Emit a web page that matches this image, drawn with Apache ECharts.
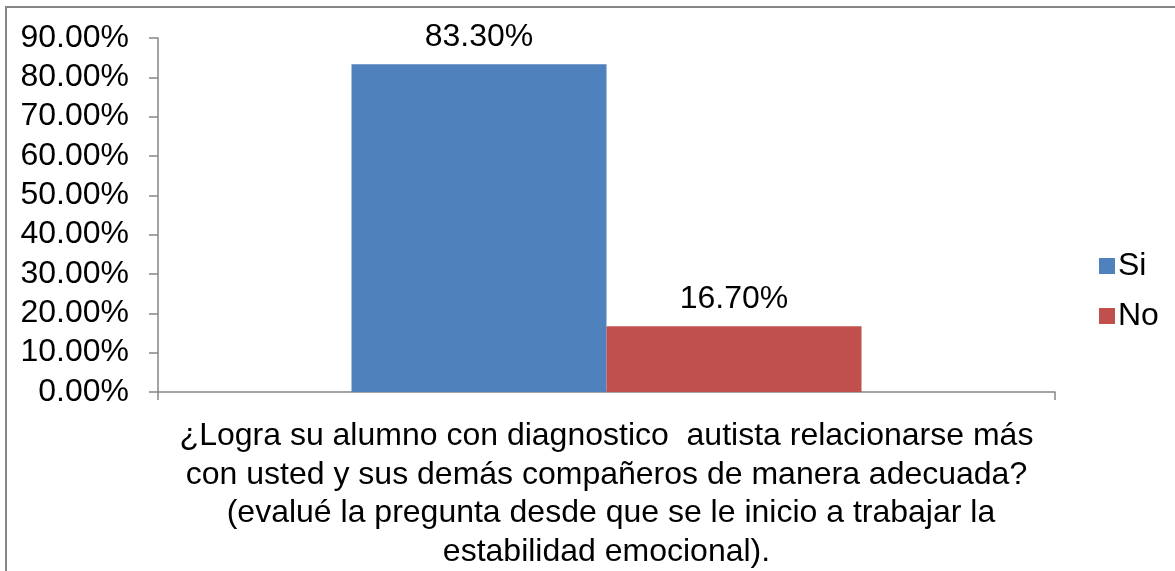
<!DOCTYPE html>
<html><head><meta charset="utf-8">
<script src="https://cdn.jsdelivr.net/npm/echarts@6/dist/echarts.min.js"></script>
<style>html,body{margin:0;padding:0;background:#fff}#c{width:1175px;height:571px}</style>
</head><body><div id="c"></div>
<script>
const categories = ["¿Logra su alumno con diagnostico  autista relacionarse más\ncon usted y sus demás compañeros de manera adecuada?\n (evalué la pregunta desde que se le inicio a trabajar la\nestabilidad emocional)."];
const seriesNames = ["Si", "No"];
const siValues = [0.833];
const noValues = [0.167];
const colors = ["#4F81BD", "#C0504D"];
const FONT = "'Liberation Sans', Arial, sans-serif";
const FS = 32;
const chart = echarts.init(document.getElementById('c'));
const pct = v => (v * 100).toFixed(2) + '%';
chart.setOption({
  animation: false,
  textStyle: { fontFamily: FONT },
  graphic: [{ type: 'rect', shape: { x: 6, y: 7, width: 1300, height: 700 }, style: { fill: 'none', stroke: '#868686', lineWidth: 2 }, silent: true }],
  grid: { left: 158, right: 120, top: 38, bottom: 178 },
  legend: {
    orient: 'vertical', left: 1094, top: 245, itemWidth: 16, itemHeight: 16, itemGap: 18,
    icon: 'rect',
    textStyle: { fontSize: FS, color: '#000', fontFamily: FONT, padding: [0, 0, 0, -2] },
    data: seriesNames
  },
  xAxis: {
    type: 'category', data: categories,
    axisLine: { lineStyle: { color: '#868686', width: 1.5 } },
    axisTick: { show: true, length: 8, lineStyle: { color: '#868686', width: 1.5 } },
    axisLabel: { color: '#000', fontSize: FS, lineHeight: 38.5, margin: 25, interval: 0, fontFamily: FONT }
  },
  yAxis: {
    type: 'value', min: 0, max: 0.9, interval: 0.1,
    axisLine: { show: true, lineStyle: { color: '#868686', width: 1.5 } },
    axisTick: { show: true, length: 9, lineStyle: { color: '#868686', width: 1.5 } },
    splitLine: { show: false },
    axisLabel: { color: '#000', fontSize: FS, margin: 29, formatter: v => pct(v), fontFamily: FONT }
  },
  series: [
    { name: seriesNames[0], type: 'bar', data: siValues, barWidth: 255, barGap: '0%', itemStyle: { color: colors[0] },
      label: { show: true, position: 'top', distance: 11, color: '#000', fontSize: FS, formatter: p => pct(p.value), fontFamily: FONT } },
    { name: seriesNames[1], type: 'bar', data: noValues, barWidth: 255, barGap: '0%', itemStyle: { color: colors[1] },
      label: { show: true, position: 'top', distance: 11, color: '#000', fontSize: FS, formatter: p => pct(p.value), fontFamily: FONT } }
  ]
});
</script></body></html>
